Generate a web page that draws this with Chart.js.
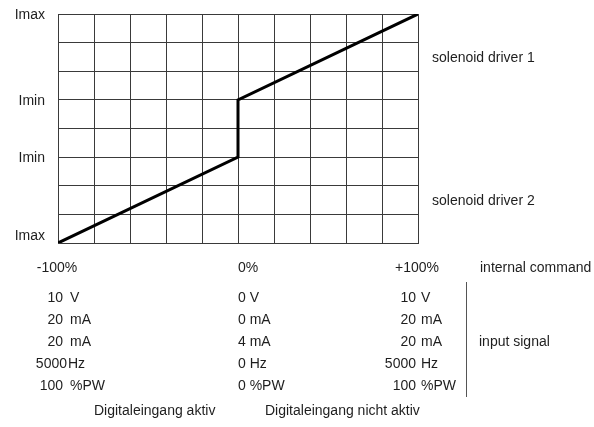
<!DOCTYPE html>
<html>
<head>
<meta charset="utf-8">
<script src="https://cdn.jsdelivr.net/npm/chart.js@4"></script>
<style>
html,body{margin:0;padding:0;background:#fff;}
#wrap{width:594px;height:427px;position:relative;}
</style>
</head>
<body>
<div id="wrap"><canvas id="c" width="594" height="427"></canvas></div>
<script>
// internal command (%) and coil current (grid units, 0 = Imax driver 2 ... 8 = Imax driver 1)
const commandPct = [-100, 0, 0, 100];
const currentLevel = [0, 3, 5, 8];

const yTickValues = [0, 3, 5, 8];
const yTickLabels = ['Imax', 'Imin', 'Imin', 'Imax'];
const xTickValues = [-100, 0, 100];
const xTickLabels = ['-100%', '0%', '+100%'];

const driverLabels = ['solenoid driver 1', 'solenoid driver 2'];
const axisCaption = 'internal command';
const inputCaption = 'input signal';

const leftNums = ['10', '20', '20', '5000', '100'];
const leftUnits = ['V', 'mA', 'mA', 'Hz', '%PW'];
const midSignal = ['0 V', '0 mA', '4 mA', '0 Hz', '0 %PW'];
const rightNums = ['10', '20', '20', '5000', '100'];
const rightUnits = ['V', 'mA', 'mA', 'Hz', '%PW'];
const digitalLabels = ['Digitaleingang aktiv', 'Digitaleingang nicht aktiv'];

const FONT = '14px "Liberation Sans", Arial, sans-serif';
const TXT = '#1e1e1e';

const textPlugin = {
  id: 'textPlugin',
  afterDraw(chart) {
    const ctx = chart.ctx;
    const xs = chart.scales.x, ys = chart.scales.y;
    const area = chart.chartArea;
    ctx.save();
    ctx.font = FONT;
    ctx.fillStyle = TXT;
    ctx.textBaseline = 'middle';

    // y tick labels
    ctx.textAlign = 'right';
    yTickValues.forEach((v, i) => {
      let y = ys.getPixelForValue(v);
      if (y > area.bottom - 8) y = area.bottom - 8;
      ctx.fillText(yTickLabels[i], area.left - 13, y + 1);
    });

    // x tick labels
    const rowX = area.bottom + 25;
    xTickValues.forEach((v, i) => {
      const x = xs.getPixelForValue(v);
      ctx.textAlign = v === 0 ? 'left' : 'center';
      ctx.fillText(xTickLabels[i], v === 0 ? x : x - 1, rowX);
    });
    ctx.textAlign = 'left';
    ctx.fillText(axisCaption, area.right + 62, rowX);

    // solenoid driver labels
    ctx.fillText(driverLabels[0], area.right + 14, ys.getPixelForValue(6.45));
    ctx.fillText(driverLabels[1], area.right + 14, ys.getPixelForValue(1.45));

    // input signal table
    const xL = xs.getPixelForValue(-100), xM = xs.getPixelForValue(0), xR = xs.getPixelForValue(100);
    const rowY0 = area.bottom + 55, rowStep = 22;
    leftNums.forEach((n, i) => {
      const y = rowY0 + i * rowStep;
      ctx.textAlign = 'right';
      ctx.fillText(n, xL + (n.length > 3 ? 9 : 5), y);
      ctx.textAlign = 'left';
      ctx.fillText(leftUnits[i], xL + (n.length > 3 ? 10 : 12), y);
      ctx.fillText(midSignal[i], xM, y);
      ctx.textAlign = 'right';
      ctx.fillText(rightNums[i], xR - 2, y);
      ctx.textAlign = 'left';
      ctx.fillText(rightUnits[i], xR + 3, y);
    });
    ctx.fillText(inputCaption, area.right + 61, rowY0 + 2 * rowStep);

    // separator
    ctx.strokeStyle = '#555';
    ctx.lineWidth = 1;
    ctx.beginPath();
    ctx.moveTo(area.right + 48.5, area.bottom + 39);
    ctx.lineTo(area.right + 48.5, area.bottom + 154);
    ctx.stroke();

    // digital input labels
    ctx.fillText(digitalLabels[0], 94, area.bottom + 168);
    ctx.fillText(digitalLabels[1], 265, area.bottom + 168);
    ctx.restore();
  }
};

new Chart(document.getElementById('c'), {
  type: 'line',
  data: {
    datasets: [{
      data: commandPct.map((x, i) => ({ x: x, y: currentLevel[i] })),
      borderColor: '#000',
      borderWidth: 3,
      pointRadius: 0,
      tension: 0,
      fill: false
    }]
  },
  options: {
    responsive: false,
    animation: false,
    devicePixelRatio: 1,
    layout: { padding: { left: 58, right: 176, top: 14, bottom: 184 } },
    plugins: { legend: { display: false }, tooltip: { enabled: false } },
    scales: {
      x: {
        type: 'linear', min: -100, max: 100,
        ticks: { display: false, stepSize: 20 },
        grid: { color: '#3a3a3a', lineWidth: 1, drawTicks: false },
        border: { display: true, color: '#3a3a3a', width: 1 }
      },
      y: {
        type: 'linear', min: 0, max: 8,
        ticks: { display: false, stepSize: 1 },
        grid: { color: '#3a3a3a', lineWidth: 1, drawTicks: false },
        border: { display: true, color: '#3a3a3a', width: 1 }
      }
    }
  },
  plugins: [textPlugin]
});
</script>
</body>
</html>
